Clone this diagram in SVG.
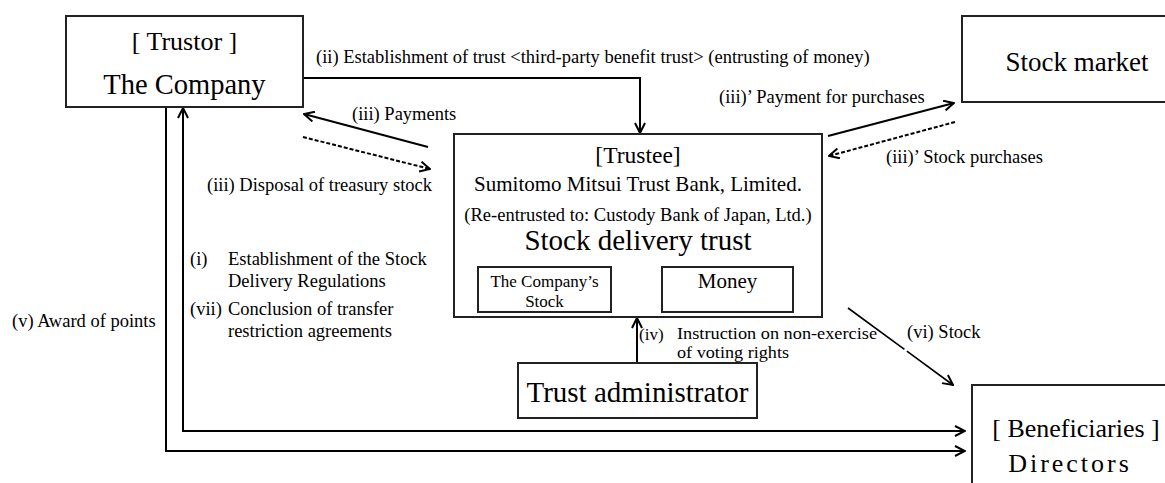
<svg xmlns="http://www.w3.org/2000/svg" width="1165" height="483" viewBox="0 0 1165 483" font-family="'Liberation Serif', Tinos, 'Times New Roman', 'DejaVu Serif', serif">
<style>
  text { font-family: "Liberation Serif", Tinos, "Times New Roman", "DejaVu Serif", serif; fill: #000; }
  .box { fill: #fff; stroke: #222; stroke-width: 2; }
  .c { text-anchor: middle; }
  .lbl { font-size: 18.5px; }
  .conn { fill: none; stroke: #000; stroke-width: 2; }
  .dash { stroke-dasharray: 4 2; }
</style>
<defs>
  <marker id="arr" viewBox="0 0 12 12" refX="11" refY="6" markerWidth="12" markerHeight="12" markerUnits="userSpaceOnUse" orient="auto-start-reverse">
    <path d="M1,1 L11,6 L1,11" fill="none" stroke="#000" stroke-width="2"/>
  </marker>
</defs>

<g id="connectors">
  <path class="conn" d="M303,78 H640 V133" marker-end="url(#arr)"/>
  <line class="conn" x1="428" y1="147" x2="304" y2="114" marker-end="url(#arr)"/>
  <line class="conn dash" x1="303" y1="137" x2="430" y2="169" marker-end="url(#arr)"/>
  <line class="conn" x1="828" y1="136" x2="954" y2="103" marker-end="url(#arr)"/>
  <line class="conn dash" x1="955" y1="122" x2="829" y2="156" marker-end="url(#arr)"/>
  <line class="conn" x1="637" y1="363" x2="637" y2="318" marker-end="url(#arr)"/>
  <line class="conn" style="stroke-width:1.6;stroke-dasharray:70 3 200" x1="848" y1="308" x2="953" y2="385" marker-end="url(#arr)"/>
  <path class="conn" d="M166,107 V451 H965" marker-end="url(#arr)"/>
  <path class="conn" d="M183,108 V431 H965" marker-start="url(#arr)" marker-end="url(#arr)"/>
  <text class="lbl" x="316" y="63">(ii) Establishment of trust &lt;third-party benefit trust&gt; (entrusting of money)</text>
  <text class="lbl" x="352" y="120">(iii) Payments</text>
  <text class="lbl" x="207" y="191">(iii) Disposal of treasury stock</text>
  <text class="lbl" x="719" y="103">(iii)’ Payment for purchases</text>
  <text class="lbl" x="886" y="163">(iii)’ Stock purchases</text>
  <text class="lbl" x="190" y="265">(i)</text>
  <text class="lbl" x="228" y="265">Establishment of the Stock</text>
  <text class="lbl" x="228" y="287">Delivery Regulations</text>
  <text class="lbl" x="190" y="315">(vii)</text>
  <text class="lbl" x="228" y="315">Conclusion of transfer</text>
  <text class="lbl" x="228" y="337">restriction agreements</text>
  <text class="lbl" x="12" y="327">(v) Award of points</text>
  <text class="lbl" x="639" y="340" style="font-size:17px">(iv)</text>
  <text x="677" y="339" font-size="16.5" textLength="200" lengthAdjust="spacingAndGlyphs">Instruction on non-exercise</text>
  <text x="677" y="358" font-size="16.5" textLength="112" lengthAdjust="spacingAndGlyphs">of voting rights</text>
  <text class="lbl" x="907" y="338">(vi) Stock</text>
</g>

<g id="trustor">
  <rect class="box" x="66" y="16" width="237" height="91"/>
  <text class="c" x="184.5" y="50" font-size="26">[ Trustor ]</text>
  <text class="c" x="184.5" y="94" font-size="28.5">The Company</text>
</g>

<g id="stock-market">
  <rect class="box" x="962" y="16" width="210" height="86"/>
  <text class="c" x="1077" y="71" font-size="27">Stock market</text>
</g>

<g id="trustee">
  <rect class="box" x="454" y="134" width="368" height="183"/>
  <text class="c" x="638" y="163" font-size="23.5">[Trustee]</text>
  <text class="c" x="638" y="191" font-size="21">Sumitomo Mitsui Trust Bank, Limited.</text>
  <text class="c" x="638" y="221" font-size="18.5">(Re-entrusted to: Custody Bank of Japan, Ltd.)</text>
  <text class="c" x="638" y="250" font-size="29">Stock delivery trust</text>
</g>

<g id="company-stock">
  <rect class="box" x="478" y="267" width="133" height="45"/>
  <text class="c" x="544.5" y="287" font-size="17">The Company’s</text>
  <text class="c" x="544.5" y="307" font-size="17">Stock</text>
</g>

<g id="money">
  <rect class="box" x="662" y="267" width="131" height="45"/>
  <text class="c" x="727.5" y="288" font-size="21">Money</text>
</g>

<g id="trust-administrator">
  <rect class="box" x="518" y="363" width="239" height="55"/>
  <text class="c" x="637.5" y="402" font-size="29">Trust administrator</text>
</g>

<g id="beneficiaries">
  <rect class="box" x="972" y="385" width="210" height="110"/>
  <text class="c" x="1076" y="437" font-size="26">[ Beneficiaries ]</text>
  <text class="c" x="1070" y="472" font-size="26" letter-spacing="3">Directors</text>
</g>
</svg>
